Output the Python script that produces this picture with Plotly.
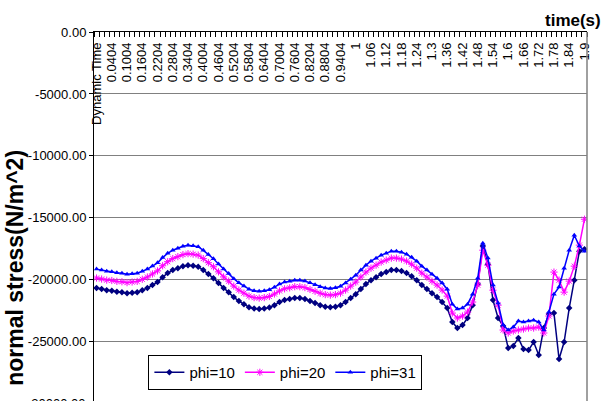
import plotly.graph_objects as go

tick_labels = ["Dynamic Time", "0.0404", "0.1004", "0.1604", "0.2204", "0.2804", "0.3404",
               "0.4004", "0.4604", "0.5204", "0.5804", "0.6404", "0.7004", "0.7604", "0.8204",
               "0.8804", "0.9404", "1", "1.06", "1.12", "1.18", "1.24", "1.3", "1.36", "1.42",
               "1.48", "1.54", "1.6", "1.66", "1.72", "1.78", "1.84", "1.9"]

phi10 = [-20680, -20760, -20850, -20890, -20970, -21010, -21090, -21050, -21010, -20850,
         -20680, -20440, -20200, -19800, -19470, -19230, -19070, -18910, -18830, -18870,
         -18950, -19230, -19550, -19880, -20280, -20680, -21010, -21410, -21730, -21980,
         -22220, -22340, -22380, -22340, -22260, -22060, -21810, -21650, -21570, -21490,
         -21490, -21570, -21730, -21890, -22060, -22180, -22220, -22180, -22060, -21810,
         -21490, -21170, -20760, -20360, -20040, -19800, -19550, -19390, -19230, -19230,
         -19310, -19470, -19720, -20040, -20440, -20760, -21090, -21410, -21810, -22300,
         -23430, -23910, -23670, -23100, -22060, -20360, -17290, -18750, -21650, -23100,
         -23750, -25530, -25360, -24720, -25610, -25690, -25040, -26090, -23910, -22780,
         -22700, -26410, -25040, -22300, -20040, -17700, -17540]

phi20 = [-19870, -19950, -20040, -20070, -20140, -20170, -20240, -20190, -20140, -19970,
         -19790, -19540, -19290, -18880, -18550, -18300, -18140, -17980, -17900, -17940,
         -18020, -18300, -18630, -18960, -19370, -19780, -20120, -20520, -20840, -21090,
         -21330, -21450, -21490, -21450, -21360, -21160, -20910, -20740, -20660, -20570,
         -20570, -20640, -20790, -20940, -21100, -21210, -21250, -21210, -21090, -20840,
         -20520, -20200, -19790, -19390, -19070, -18830, -18580, -18420, -18260, -18260,
         -18340, -18500, -18750, -19070, -19470, -19790, -20120, -20440, -20840, -21330,
         -22700, -23100, -22940, -22620, -21810, -20440, -17620, -18830, -20850, -22060,
         -24070, -24310, -24150, -24070, -23990, -23910, -23910, -23830, -24310, -22940,
         -19390, -20040, -21010, -20120, -18910, -17210, -15120]

phi31 = [-19150, -19230, -19320, -19360, -19440, -19480, -19560, -19520, -19480, -19320,
         -19150, -18900, -18640, -18220, -17870, -17620, -17460, -17300, -17220, -17260,
         -17340, -17630, -17960, -18310, -18730, -19150, -19500, -19920, -20260, -20520,
         -20770, -20890, -20930, -20890, -20810, -20610, -20360, -20200, -20120, -20040,
         -20040, -20110, -20260, -20410, -20570, -20680, -20710, -20660, -20530, -20280,
         -19960, -19640, -19230, -18830, -18510, -18270, -18020, -17860, -17700, -17700,
         -17780, -17940, -18190, -18510, -18910, -19230, -19560, -19880, -20280, -20770,
         -21980, -22380, -22300, -21980, -21170, -19880, -17050, -18260, -20440, -21890,
         -23670, -24070, -23830, -23350, -23430, -23350, -23270, -23430, -24070, -22620,
         -21170, -20600, -19070, -17620, -16410, -17290, -17700]

y_ticks = [0, -5000, -10000, -15000, -20000, -25000, -30000]

W, H = 605, 401
L, R, T = 93.5, 587.5, 31.7
PX_PER_UNIT = 1 / 80.7
y_bottom = -(H - T) / PX_PER_UNIT

n = len(phi10)
x = list(range(n))

FONT = "Liberation Sans, Arial, sans-serif"

fig = go.Figure()
series = [
    ("phi=10", phi10, "#000080", "diamond", 5, 0),
    ("phi=20", phi20, "#FF00FF", "asterisk-open", 6, 1),
    ("phi=31", phi31, "#0000FF", "triangle-up", 5, 0),
]
for name, vals, color, sym, size, lw in series:
    fig.add_trace(go.Scatter(
        x=x, y=vals, name=name, mode="lines+markers",
        line=dict(color=color, width=1.5),
        marker=dict(symbol=sym, size=size, color=color, line=dict(color=color, width=lw)),
    ))

fig.update_layout(
    width=W, height=H,
    margin=dict(l=L, r=W - R, t=T, b=0, pad=0),
    plot_bgcolor="white", paper_bgcolor="white",
    font=dict(family=FONT, color="black"),
    legend=dict(
        orientation="h", x=(148 - L) / (R - L), y=(H - 355) / (H - T),
        xanchor="left", yanchor="top",
        bordercolor="black", borderwidth=1, bgcolor="white",
        font=dict(size=15, family=FONT, color="black"),
        itemwidth=30, tracegroupgap=0,
    ),
)

fig.update_xaxes(
    range=[-0.5, n - 0.5], side="top", showline=True, linecolor="black", linewidth=1,
    showgrid=False, zeroline=False,
    tickmode="array", tickvals=list(range(0, n, 3)), ticktext=tick_labels,
    tickangle=-90, ticklabelposition="inside", ticklabeloverflow="allow",
    ticklabelstandoff=3, ticks="",
    tickfont=dict(size=13, family=FONT, color="black"),
    minor=dict(tick0=-0.5, dtick=1, ticks="inside", ticklen=5, tickcolor="black",
               tickwidth=1, showgrid=False),
)

fig.update_yaxes(
    range=[y_bottom, 4], showline=True, linecolor="black", linewidth=1,
    showgrid=True, gridcolor="#808080", gridwidth=1, zeroline=False,
    tickmode="array", tickvals=y_ticks, ticktext=[f"{v:.2f}" for v in y_ticks],
    ticks="outside", ticklen=4, tickcolor="black", ticklabeloverflow="allow",
    tickfont=dict(size=13, family=FONT, color="black"),
)

# right border of the plot area
fig.add_shape(type="line", xref="paper", yref="paper", x0=1, x1=1, y0=0, y1=1,
              line=dict(color="#808080", width=1.5))

# partially visible bottom tick label
fig.add_annotation(text=f"{y_ticks[-1]:.2f}", xref="paper", yref="paper", x=0,
                   y=-(T + (-y_ticks[-1]) * PX_PER_UNIT - H) / (H - T),
                   xanchor="right", yanchor="middle", xshift=-6, showarrow=False,
                   font=dict(size=13, family=FONT, color="black"))

fig.add_annotation(text="<b>time(s)</b>", xref="paper", yref="paper",
                   x=(604 - L) / (R - L), y=(H - 20) / (H - T),
                   xanchor="right", yanchor="middle", showarrow=False,
                   font=dict(size=17, family=FONT, color="black"))

fig.add_annotation(text="<b>normal stress(N/m^2)</b>", xref="paper", yref="paper",
                   x=(14 - L) / (R - L), y=(H - 268) / (H - T), textangle=-90,
                   xanchor="center", yanchor="middle", showarrow=False,
                   font=dict(size=23, family=FONT, color="black"))

fig.write_html("out.html",
               config={"displayModeBar": False},
               post_script="document.body.style.margin='0';"
                           "document.body.style.overflow='hidden';")
